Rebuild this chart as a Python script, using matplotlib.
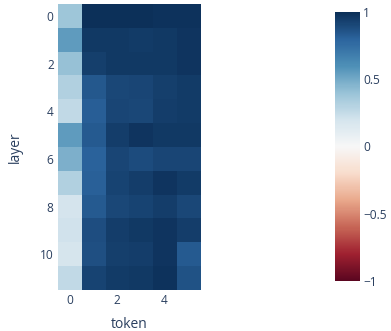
import numpy as np
import matplotlib
matplotlib.use("Agg")
import matplotlib.pyplot as plt
from matplotlib.colors import ListedColormap

plt.rcParams['font.family'] = ['Open Sans', 'DejaVu Sans']

# attention-like scores per layer (rows) and token (columns)
layers = list(range(12))
tokens = list(range(6))
scores = np.array([
    [0.38, 0.99, 0.99, 0.99, 0.98, 0.98],
    [0.55, 0.96, 0.96, 0.95, 0.96, 0.97],
    [0.40, 0.93, 0.96, 0.96, 0.96, 0.97],
    [0.32, 0.84, 0.90, 0.91, 0.93, 0.95],
    [0.26, 0.82, 0.91, 0.90, 0.94, 0.95],
    [0.55, 0.83, 0.94, 0.97, 0.96, 0.96],
    [0.47, 0.80, 0.91, 0.89, 0.91, 0.91],
    [0.32, 0.81, 0.92, 0.94, 0.97, 0.95],
    [0.19, 0.83, 0.90, 0.92, 0.94, 0.90],
    [0.21, 0.88, 0.94, 0.96, 0.97, 0.94],
    [0.18, 0.87, 0.93, 0.94, 0.97, 0.83],
    [0.26, 0.92, 0.95, 0.96, 0.98, 0.86],
])

# slightly muted RdBu
rgba = plt.get_cmap("RdBu")(np.linspace(0, 1, 256))
lum = rgba[:, :3] @ np.array([0.299, 0.587, 0.114])
rgba[:, :3] = 0.82 * rgba[:, :3] + 0.18 * lum[:, None]
cmap = ListedColormap(rgba)

txt = "#2a3f5f"
fig = plt.figure(figsize=(3.91, 3.31), dpi=100)
ax = fig.add_axes([0.148, 0.124, 0.364, 0.864])
im = ax.imshow(scores, cmap=cmap, vmin=-1, vmax=1, aspect="auto",
               interpolation="nearest")
ax.set_xticks([0, 2, 4])
ax.set_yticks([0, 2, 4, 6, 8, 10])
ax.tick_params(length=0, labelsize=8.6, labelcolor=txt, pad=3)
for s in ax.spines.values():
    s.set_visible(False)
ax.set_xlabel("token", fontsize=10, color=txt, labelpad=7)
ax.set_ylabel("layer", fontsize=10, color=txt, labelpad=12)

cax = fig.add_axes([0.857, 0.151, 0.064, 0.813])
cb = fig.colorbar(im, cax=cax, ticks=[-1, -0.5, 0, 0.5, 1])
cb.outline.set_visible(False)
cb.ax.set_yticklabels(["\u22121", "\u22120.5", "0", "0.5", "1"])
cb.ax.tick_params(length=0, labelsize=8.6, labelcolor=txt, pad=2)

fig.savefig("out.png", dpi=100)
